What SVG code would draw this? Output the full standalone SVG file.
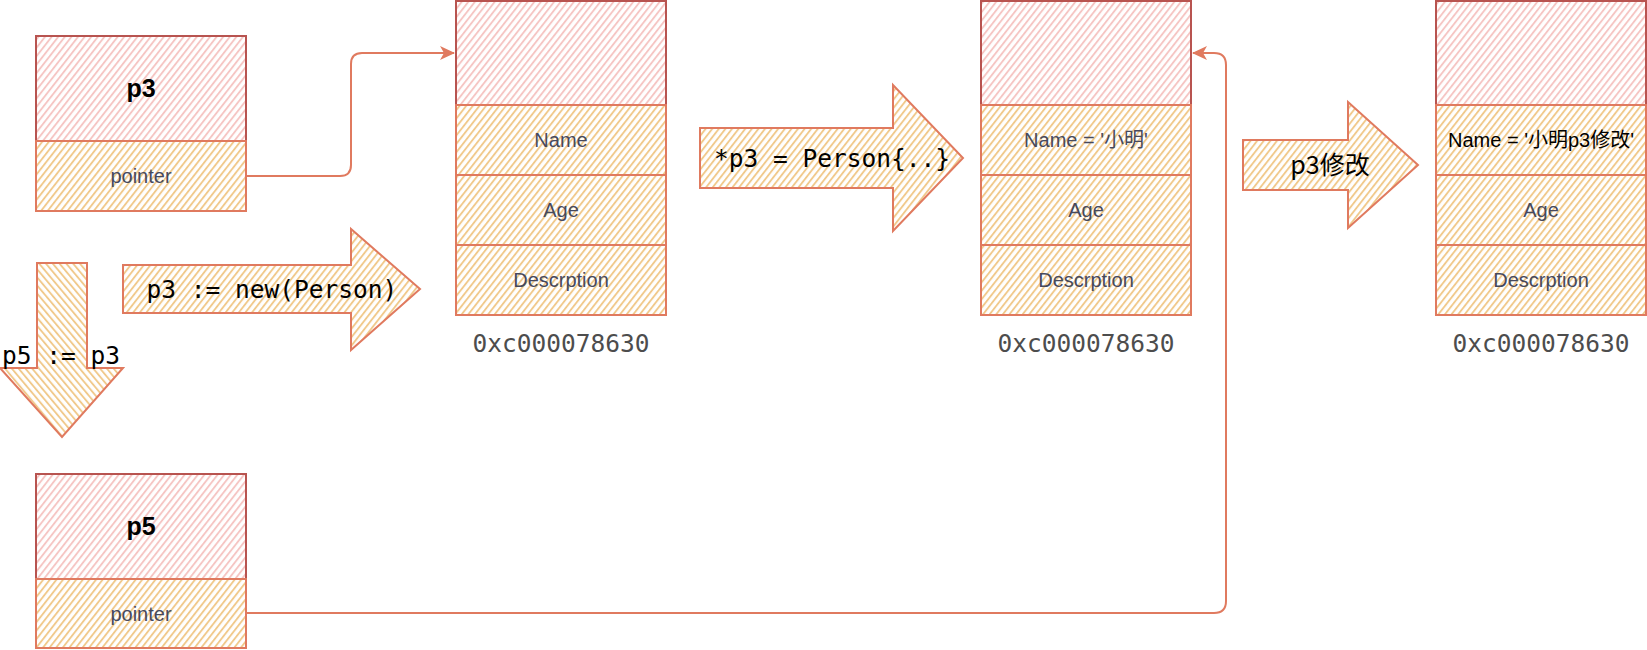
<svg xmlns="http://www.w3.org/2000/svg" width="1647" height="650" viewBox="0 0 1647 650">
<defs>
<pattern id="hp" width="5.2" height="10" patternUnits="userSpaceOnUse" patternTransform="rotate(38)"><line x1="1" y1="0" x2="1" y2="10" stroke="#F5C2C0" stroke-width="1.8"/></pattern>
<pattern id="ho" width="5.2" height="10" patternUnits="userSpaceOnUse" patternTransform="rotate(38)"><line x1="1" y1="0" x2="1" y2="10" stroke="#F0C685" stroke-width="1.8"/></pattern>
<pattern id="hod" width="5.2" height="10" patternUnits="userSpaceOnUse" patternTransform="rotate(-40)"><line x1="1" y1="0" x2="1" y2="10" stroke="#F0C685" stroke-width="1.8"/></pattern>
<marker id="ah" markerWidth="16" markerHeight="14" refX="14" refY="7" orient="auto" markerUnits="userSpaceOnUse"><path d="M0,0 L15,7 L0,14 L4,7 Z" fill="#E07A5F"/></marker>
</defs>
<style>
.hd{fill:url(#hp);stroke:#B85450;stroke-width:2}
.rw{fill:url(#ho);stroke:#E07A5F;stroke-width:2}
.ar{fill:url(#ho);stroke:#E07A5F;stroke-width:2;stroke-linejoin:miter}
.ard{fill:url(#hod);stroke:#E07A5F;stroke-width:2}
.lb{font-family:"Liberation Sans",Arial,sans-serif;font-size:20px;fill:#46495D;text-anchor:middle}
.bd{font-family:"Liberation Sans",Arial,sans-serif;font-size:25px;font-weight:bold;fill:#000;text-anchor:middle}
.mo{font-family:"DejaVu Sans Mono",monospace;font-size:24.5px;fill:#000;text-anchor:middle}
.ad{font-family:"DejaVu Sans Mono",monospace;font-size:24.5px;fill:#4D4D4D;text-anchor:middle}
.cn{fill:none;stroke:#E07A5F;stroke-width:2}
</style>

<g id="connectors">
<path class="cn" d="M246,176 H340 Q351,176 351,165 V64 Q351,53 362,53 H454" marker-end="url(#ah)"/>
<path class="cn" d="M246,613 H1214 Q1226,613 1226,601 V65 Q1226,53 1214,53 H1193" marker-end="url(#ah)"/>
</g>

<g id="p3">
<rect class="hd" x="36" y="36" width="210" height="105"/>
<rect class="rw" x="36" y="141" width="210" height="70"/>
<text class="bd" x="141" y="97">p3</text>
<text class="lb" x="141" y="183">pointer</text>
</g>

<g id="p5">
<rect class="hd" x="36" y="474" width="210" height="105"/>
<rect class="rw" x="36" y="579" width="210" height="69"/>
<text class="bd" x="141" y="535">p5</text>
<text class="lb" x="141" y="621">pointer</text>
</g>

<g id="obj1">
<rect class="hd" x="456" y="1" width="210" height="104"/>
<rect class="rw" x="456" y="105" width="210" height="70"/>
<rect class="rw" x="456" y="175" width="210" height="70"/>
<rect class="rw" x="456" y="245" width="210" height="70"/>
<text class="lb" x="561" y="147">Name</text>
<text class="lb" x="561" y="217">Age</text>
<text class="lb" x="561" y="287">Descrption</text>
<text class="ad" x="561" y="352">0xc000078630</text>
</g>

<g id="obj2">
<rect class="hd" x="981" y="1" width="210" height="104"/>
<rect class="rw" x="981" y="105" width="210" height="70"/>
<rect class="rw" x="981" y="175" width="210" height="70"/>
<rect class="rw" x="981" y="245" width="210" height="70"/>
<text class="lb" x="1086" y="147" style="font-family:'Liberation Sans','Noto Sans CJK SC',sans-serif">Name = '小明'</text>
<text class="lb" x="1086" y="217">Age</text>
<text class="lb" x="1086" y="287">Descrption</text>
<text class="ad" x="1086" y="352">0xc000078630</text>
</g>

<g id="obj3">
<rect class="hd" x="1436" y="1" width="210" height="104"/>
<rect class="rw" x="1436" y="105" width="210" height="70"/>
<rect class="rw" x="1436" y="175" width="210" height="70"/>
<rect class="rw" x="1436" y="245" width="210" height="70"/>
<text class="lb" x="1541" y="147" style="fill:#000;font-family:'Liberation Sans','Noto Sans CJK SC',sans-serif">Name = '小明p3修改'</text>
<text class="lb" x="1541" y="217">Age</text>
<text class="lb" x="1541" y="287">Descrption</text>
<text class="ad" x="1541" y="352">0xc000078630</text>
</g>

<g id="arrow-new">
<polygon class="ar" points="123,265 351,265 351,229 420,289 351,350 351,313 123,313"/>
<text class="mo" x="272" y="298">p3 := new(Person)</text>
</g>

<g id="arrow-assign">
<polygon class="ar" points="700,128 893,128 893,85 963,158 893,231 893,188 700,188"/>
<text class="mo" x="832" y="167">*p3 = Person{..}</text>
</g>

<g id="arrow-modify">
<polygon class="ar" points="1243,140 1348,140 1348,102 1418,165 1348,228 1348,190 1243,190"/>
<text x="1330" y="174" style="font-family:'Noto Sans CJK SC',sans-serif;font-size:25px;fill:#000;text-anchor:middle">p3修改</text>
</g>

<g id="arrow-copy">
<polygon class="ard" points="37,263 87,263 87,368 123,368 62,437 0,368 37,368"/>
<text class="mo" x="61" y="364">p5 := p3</text>
</g>
</svg>
